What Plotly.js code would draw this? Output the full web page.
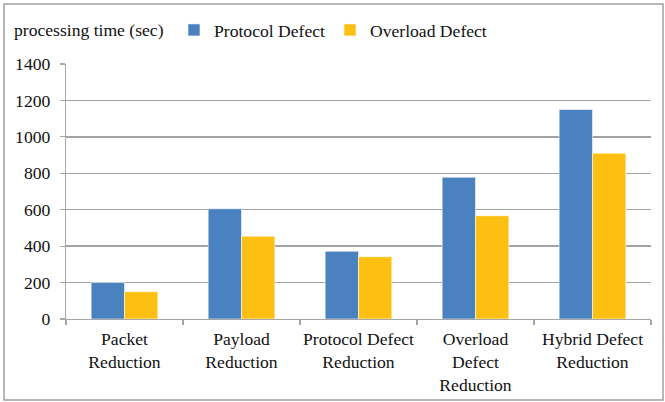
<!DOCTYPE html>
<html>
<head>
<meta charset="utf-8">
<script src="https://cdn.plot.ly/plotly-3.0.1.min.js"></script>
<style>html,body{margin:0;padding:0;background:#fff;}#chart{width:665px;height:402px;}</style>
</head>
<body>
<div id="chart"></div>
<script>
var categories = ["Packet<br>Reduction", "Payload<br>Reduction", "Protocol Defect<br>Reduction", "Overload<br>Defect<br>Reduction", "Hybrid Defect<br>Reduction"];
var seriesNames = ["Protocol Defect", "Overload Defect"];
var protocolDefect = [200, 605, 372, 778, 1150];
var overloadDefect = [150, 455, 342, 567, 910];
var yTickVals = [0, 200, 400, 600, 800, 1000, 1200, 1400];
var axisTitle = "processing time (sec)";

var W = 665, H = 402;
var mL = 66, mR = 14, mT = 64, mB = 83;
var pw = W - mL - mR, ph = H - mT - mB;
function px(x){ return (x - mL) / pw; }
function py(y){ return (H - mB - y) / ph; }

var font = {family: "Liberation Serif, Times New Roman, serif", size: 17.6, color: "#111"};

var traces = [
  {type: "bar", name: seriesNames[0], x: categories, y: protocolDefect,
   marker: {color: "#4A81BF", line: {color: "rgba(255,255,255,0.7)", width: 0.8}}},
  {type: "bar", name: seriesNames[1], x: categories, y: overloadDefect,
   marker: {color: "#FDC012", line: {color: "rgba(255,255,255,0.7)", width: 0.8}}}
];

var layout = {
  width: W, height: H,
  margin: {l: mL, r: mR, t: mT, b: mB, pad: 0},
  paper_bgcolor: "#fff", plot_bgcolor: "#fff",
  font: font,
  barmode: "group",
  bargap: 0.43,
  bargroupgap: 0,
  showlegend: true,
  legend: {orientation: "h", x: px(174), xanchor: "left", y: py(30), yanchor: "middle",
           font: font, itemwidth: 30, bgcolor: "rgba(0,0,0,0)", traceorder: "normal"},
  xaxis: {type: "category", showgrid: false, showline: true, linecolor: "#A6A6A6", linewidth: 1.2,
          ticks: "outside", tickson: "boundaries", ticklen: 5, tickcolor: "#A6A6A6", tickwidth: 1.2,
          tickangle: 0, tickfont: font, ticklabelstandoff: 4, zeroline: false, fixedrange: true},
  yaxis: {range: [0, 1400], tickvals: yTickVals, showgrid: true, gridcolor: "#A3A3A3", gridwidth: 1.3,
          showline: true, linecolor: "#A6A6A6", linewidth: 1.2, ticks: "outside", ticklen: 5,
          tickcolor: "#A6A6A6", tickwidth: 1.2, tickfont: font, ticklabelstandoff: 6,
          zeroline: false, fixedrange: true},
  annotations: [
    {text: axisTitle, xref: "paper", yref: "paper", x: px(12), y: py(30), xanchor: "left", yanchor: "middle",
     showarrow: false, font: font}
  ],
  shapes: [
    {type: "rect", xref: "paper", yref: "paper", x0: px(4), x1: px(663), y0: py(4), y1: py(400),
     line: {color: "#A0A0A0", width: 1.5}, fillcolor: "rgba(0,0,0,0)", layer: "below"}
  ]
};

Plotly.newPlot("chart", traces, layout, {displayModeBar: false, staticPlot: true});
</script>
</body>
</html>
